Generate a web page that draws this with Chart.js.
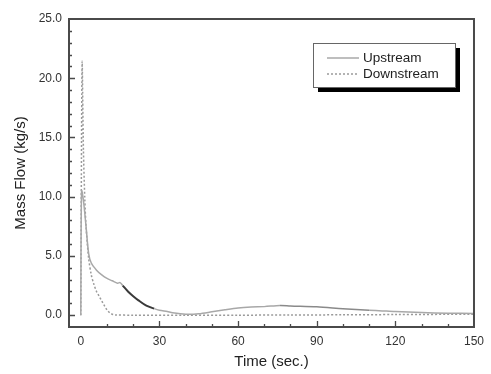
<!DOCTYPE html>
<html>
<head>
<meta charset="utf-8">
<script src="https://cdn.jsdelivr.net/npm/chart.js@4/dist/chart.umd.min.js"></script>
<style>
html,body{margin:0;padding:0;background:#fff;}
#wrap{width:491px;height:374px;}
</style>
</head>
<body>
<div id="wrap"><canvas id="c" width="491" height="374"></canvas></div>
<script>
const seriesNames = ['Upstream', 'Downstream'];
const upstreamT = [0, 0.3, 1, 2, 3, 4, 6, 8, 10, 12, 14, 15, 16, 18, 20, 22, 25, 28, 30, 33, 35, 40, 45, 50, 55, 60, 65, 70, 76, 80, 90, 100, 110, 115, 120, 130, 140, 150];
const upstreamV = [0, 10.5, 9.7, 7.5, 5.2, 4.4, 3.8, 3.4, 3.1, 2.9, 2.7, 2.75, 2.5, 2.0, 1.6, 1.25, 0.8, 0.55, 0.42, 0.3, 0.2, 0.08, 0.12, 0.28, 0.45, 0.6, 0.68, 0.72, 0.82, 0.78, 0.7, 0.55, 0.42, 0.36, 0.3, 0.22, 0.17, 0.14];
const downstreamT = [0, 0.5, 1, 1.5, 2, 3, 4, 5, 6, 7, 8, 9, 10, 11, 12, 13, 20, 40, 60, 80, 100, 120, 150];
const downstreamV = [0, 21.3, 14, 10, 7.5, 4.8, 3.4, 2.6, 2.0, 1.6, 1.2, 0.8, 0.45, 0.2, 0.08, 0.02, 0, 0, 0, 0.01, 0.03, 0.05, 0.08];
const xTickValues = [0, 30, 60, 90, 120, 150];
const yTickValues = [0, 5, 10, 15, 20, 25];
const xTitle = 'Time (sec.)';
const yTitle = 'Mass Flow (kg/s)';

const toXY = (ts, vs) => ts.map((t, i) => ({x: t, y: vs[i]}));

const frameColor = '#4a4a4a';
const FONT = '"Liberation Sans", Arial, sans-serif';

const framePlugin = {
  id: 'frame',
  afterDatasetsDraw(chart) {
    const {ctx, chartArea: a, scales} = chart;
    const xs = scales.x, ys = scales.y;
    ctx.save();
    ctx.strokeStyle = frameColor;
    ctx.lineWidth = 1.3;
    ctx.beginPath();
    for (let v = 10; v < 150; v += 10) {
      const px = Math.round(xs.getPixelForValue(v)) + 0.5;
      const len = (v % 30 === 0) ? 6 : 3;
      ctx.moveTo(px, a.bottom); ctx.lineTo(px, a.bottom - len);
    }
    for (let v = 0; v < 25; v += 1) {
      const py = Math.round(ys.getPixelForValue(v)) + 0.5;
      const len = (v % 5 === 0) ? 6 : 3;
      ctx.moveTo(a.left, py); ctx.lineTo(a.left + len, py);
    }
    ctx.stroke();
    ctx.lineWidth = 2;
    ctx.strokeRect(a.left, a.top, a.right - a.left, a.bottom - a.top);
    ctx.restore();
  }
};

const legendPlugin = {
  id: 'boxLegend',
  afterDraw(chart) {
    const {ctx, chartArea: a} = chart;
    const x0 = a.left + 244, y0 = a.top + 24, w = 142, h = 44;
    ctx.save();
    ctx.fillStyle = '#000';
    ctx.fillRect(x0 + 5, y0 + 5, w, h);
    ctx.fillStyle = '#fff';
    ctx.fillRect(x0, y0, w, h);
    ctx.strokeStyle = '#666';
    ctx.lineWidth = 1;
    ctx.strokeRect(x0 + 0.5, y0 + 0.5, w, h);
    const ds = chart.data.datasets;
    const rows = [y0 + 15, y0 + 31];
    ctx.font = '13.5px ' + FONT;
    ctx.textBaseline = 'middle';
    ds.forEach((d, i) => {
      ctx.beginPath();
      ctx.strokeStyle = d.borderColor;
      ctx.lineWidth = 1.5;
      ctx.setLineDash(d.borderDash || []);
      ctx.moveTo(x0 + 14, rows[i]); ctx.lineTo(x0 + 46, rows[i]);
      ctx.stroke();
      ctx.setLineDash([]);
      ctx.fillStyle = '#222';
      ctx.fillText(d.label, x0 + 50, rows[i]);
    });
    ctx.restore();
  }
};

new Chart(document.getElementById('c'), {
  type: 'line',
  data: {
    datasets: [
      {
        label: seriesNames[0],
        data: toXY(upstreamT, upstreamV),
        borderColor: '#a8a8a8',
        borderWidth: 1.5,
        pointRadius: 0,
        tension: 0.3,
        segment: {
          borderColor: c => (c.p0.parsed.x >= 16 && c.p1.parsed.x <= 28) ? '#3a3a3a' : (c.p0.parsed.x >= 76 && c.p1.parsed.x <= 110 ? '#8a8a8a' : undefined),
          borderWidth: c => (c.p0.parsed.x >= 16 && c.p1.parsed.x <= 28) ? 2 : undefined
        }
      },
      {
        label: seriesNames[1],
        data: toXY(downstreamT, downstreamV),
        borderColor: '#9a9a9a',
        borderWidth: 1.5,
        borderDash: [2, 2],
        pointRadius: 0,
        tension: 0.3
      }
    ]
  },
  options: {
    responsive: false,
    animation: false,
    events: [],
    layout: {padding: {left: 0, right: 10, top: 19, bottom: 0}},
    plugins: {legend: {display: false}, tooltip: {enabled: false}},
    scales: {
      x: {
        type: 'linear',
        min: -4.5,
        max: 150,
        afterBuildTicks: s => { s.ticks = xTickValues.map(v => ({value: v})); },
        afterFit: s => { s.height = 47; },
        grid: {display: false, drawTicks: false},
        border: {display: false},
        ticks: {
          padding: 7,
          color: '#333',
          font: {family: FONT, size: 12},
          maxRotation: 0,
          callback: v => String(v)
        },
        title: {
          display: true,
          text: xTitle,
          color: '#222',
          font: {family: FONT, size: 15},
          padding: {top: 0, bottom: 3}
        }
      },
      y: {
        type: 'linear',
        min: -1,
        max: 25,
        afterBuildTicks: s => { s.ticks = yTickValues.map(v => ({value: v})); },
        afterFit: s => { s.width = 69; },
        grid: {display: false, drawTicks: false},
        border: {display: false},
        ticks: {
          padding: 7,
          color: '#333',
          font: {family: FONT, size: 12},
          callback: v => Number(v).toFixed(1)
        },
        title: {
          display: true,
          text: yTitle,
          color: '#222',
          font: {family: FONT, size: 15},
          padding: {top: 12, bottom: 0}
        }
      }
    }
  },
  plugins: [framePlugin, legendPlugin]
});
</script>
</body>
</html>
